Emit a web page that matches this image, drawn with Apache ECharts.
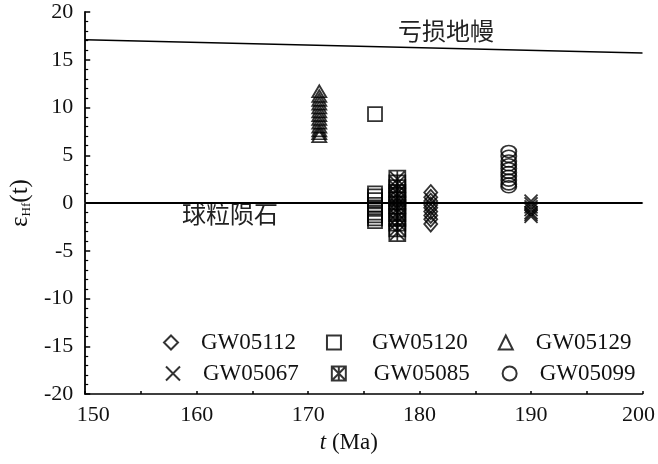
<!DOCTYPE html>
<html>
<head>
<meta charset="utf-8">
<script src="https://cdn.jsdelivr.net/npm/echarts@6/dist/echarts.min.js"></script>
<style>
  html, body { margin: 0; padding: 0; background: #fff; }
  #chart { width: 658px; height: 464px; }
</style>
</head>
<body>
<div id="chart"></div>
<script>
// Hf isotope evolution: εHf(t) against crystallisation age t (Ma)
const sampleNames = ['GW05112', 'GW05120', 'GW05129', 'GW05067', 'GW05085', 'GW05099'];

// age of each sample (Ma)
const sampleAges = {
  GW05112: 181,
  GW05120: 176,
  GW05129: 171,
  GW05067: 190,
  GW05085: 178,
  GW05099: 188
};

// εHf(t) of the analysed zircon spots
const hf_GW05112 = [1.1, 0.6, 0.2, -0.2, -0.5, -0.9, -1.3, -1.7, -2.2];
const hf_GW05120 = [9.3, 1.0, 0.7, 0.3, -0.2, -0.6, -1.0, -1.3, -1.6, -1.9];
const hf_GW05129 = [11.7, 11.2, 10.8, 10.4, 10.0, 9.6, 9.2, 8.8, 8.4, 8.0, 7.6, 7.3, 7.0];
const hf_GW05067 = [0.2, -0.1, -0.4, -0.7, -1.0, -1.2, -1.4];
const hf_GW05085 = [2.5, 2.0, 1.5, 1.0, 0.6, 0.2, -0.2, -0.6, -1.0, -1.5, -2.0, -2.6, -3.1];
const hf_GW05099 = [5.4, 4.9, 4.4, 4.0, 3.6, 3.2, 2.8, 2.4, 2.0, 1.7];

// reference evolution lines: [age, εHf]
const depletedMantle = [[150, 17.1], [200, 15.7]];
const chondrite = [[150, 0], [200, 0]];

// axis ticks
const xTicks = [150, 160, 170, 180, 190, 200];
const yTicks = [-20, -15, -10, -5, 0, 5, 10, 15, 20];

const hfValues = {
  GW05112: hf_GW05112,
  GW05120: hf_GW05120,
  GW05129: hf_GW05129,
  GW05067: hf_GW05067,
  GW05085: hf_GW05085,
  GW05099: hf_GW05099
};

const markers = {
  GW05112: { symbol: 'diamond', size: [13, 15] },
  GW05120: { symbol: 'rect', size: 14 },
  GW05129: { symbol: 'path://M5,0 L10,10 L0,10 Z', size: [14, 12] },
  GW05067: { symbol: 'path://M0,0 L10,10 M10,0 L0,10', size: 13 },
  GW05085: { symbol: 'path://M0,0 L10,0 L10,10 L0,10 Z M0,0 L10,10 M10,0 L0,10 M5,0 L5,10', size: [16, 17] },
  GW05099: { symbol: 'circle', size: [15, 12] }
};

const serif = '"Liberation Serif", "Times New Roman", serif';
const cjk = '"Noto Sans CJK SC", sans-serif';

const scatterSeries = sampleNames.map(name => ({
  name: name,
  type: 'scatter',
  symbol: markers[name].symbol,
  symbolSize: markers[name].size,
  itemStyle: { color: 'rgba(255,255,255,0)', borderColor: '#000', borderWidth: 1.8 },
  emphasis: { disabled: true },
  data: hfValues[name].map(v => [sampleAges[name], v]),
  z: 5
}));

const chart = echarts.init(document.getElementById('chart'), null, { renderer: 'canvas' });

const legendCommon = {
  orient: 'horizontal',
  itemWidth: 14,
  itemHeight: 14,
  selectedMode: false,
  textStyle: { fontFamily: serif, fontSize: 23, color: '#111', padding: [0, 0, 0, 18] }
};

chart.setOption({
  animation: false,
  backgroundColor: '#fff',
  grid: { left: 85, right: 12, top: 12, bottom: 70 },
  legend: [
    Object.assign({}, legendCommon, {
      left: 158, top: 326, itemGap: 30,
      data: [
        { name: sampleNames[0] },
        { name: sampleNames[1], textStyle: { padding: [0, 0, 0, 26] } },
        { name: sampleNames[2] }
      ]
    }),
    Object.assign({}, legendCommon, {
      left: 160, top: 357, itemGap: 32,
      data: [
        { name: sampleNames[3] },
        { name: sampleNames[4], textStyle: { padding: [0, 0, 0, 23] } },
        { name: sampleNames[5] }
      ]
    })
  ],
  xAxis: [{
    type: 'value',
    min: xTicks[0],
    max: xTicks[xTicks.length - 1],
    interval: 10,
    position: 'bottom',
    name: '{i|t} (Ma)',
    nameLocation: 'middle',
    nameGap: 37,
    nameTextStyle: {
      fontFamily: serif, fontSize: 23, color: '#111', padding: [0, 30, 0, 0],
      rich: { i: { fontFamily: serif, fontSize: 23, fontStyle: 'italic', color: '#111' } }
    },
    axisLine: { show: true, onZero: false, lineStyle: { color: '#000', width: 1.5 } },
    axisTick: { show: true, inside: true, length: 3, lineStyle: { color: '#000', width: 1.5 } },
    minorTick: { show: true, splitNumber: 2, length: 3, lineStyle: { color: '#000', width: 1.5 } },
    axisLabel: {
      fontFamily: serif, fontSize: 22, color: '#111', margin: 10,
      formatter: v => v === xTicks[0] ? '{l|' + v + '}' : (v === xTicks[xTicks.length - 1] ? '{r|' + v + '}' : String(v)),
      rich: {
        l: { fontFamily: serif, fontSize: 22, color: '#111', padding: [0, 0, 0, 16] },
        r: { fontFamily: serif, fontSize: 22, color: '#111', padding: [0, 8, 0, 0] }
      }
    },
    splitLine: { show: false }
  }, {
    type: 'value',
    min: xTicks[0],
    max: xTicks[xTicks.length - 1],
    position: 'top',
    axisLine: { show: true, lineStyle: { color: '#999', width: 1.5 } },
    axisTick: { show: false },
    axisLabel: { show: false },
    splitLine: { show: false }
  }],
  yAxis: {
    type: 'value',
    min: yTicks[0],
    max: yTicks[yTicks.length - 1],
    interval: 5,
    name: '{e|ε}{s|Hf}{e|(t)}',
    nameLocation: 'middle',
    nameGap: 46,
    nameRotate: 90,
    nameTextStyle: {
      color: '#111',
      rich: {
        e: { fontFamily: serif, fontSize: 25, color: '#111', lineHeight: 28, verticalAlign: 'bottom' },
        s: { fontFamily: serif, fontSize: 13, color: '#111', lineHeight: 14, verticalAlign: 'bottom' }
      }
    },
    axisLine: { show: true, onZero: false, lineStyle: { color: '#000', width: 1.8 } },
    axisTick: { show: true, inside: true, length: 5, lineStyle: { color: '#000', width: 1.5 } },
    minorTick: { show: true, splitNumber: 5, length: 3, lineStyle: { color: '#000', width: 1.2 } },
    axisLabel: { fontFamily: serif, fontSize: 22, color: '#111', margin: 12 },
    splitLine: { show: false }
  },
  series: [
    {
      name: 'depleted mantle',
      type: 'line',
      data: depletedMantle,
      symbol: 'none',
      lineStyle: { color: '#000', width: 1.6 },
      silent: true,
      z: 3
    },
    {
      name: 'CHUR',
      type: 'line',
      data: chondrite,
      symbol: 'none',
      lineStyle: { color: '#000', width: 2.2 },
      silent: true,
      z: 3
    }
  ].concat(scatterSeries),
  graphic: [
    {
      type: 'text',
      left: 398, top: 19,
      style: { text: '亏损地幔', font: '24px ' + cjk, fill: '#222' }
    },
    {
      type: 'text',
      left: 182, top: 202,
      style: { text: '球粒陨石', font: '24px ' + cjk, fill: '#222' }
    }
  ]
});
</script>
</body>
</html>
